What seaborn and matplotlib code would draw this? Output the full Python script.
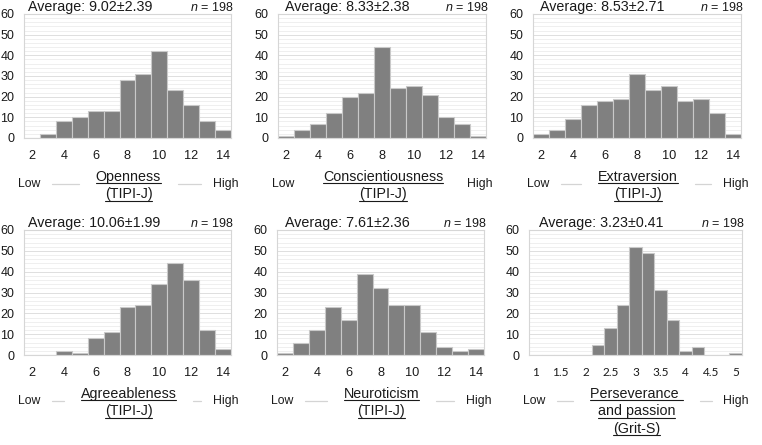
import numpy as np
import pandas as pd
import matplotlib
matplotlib.use("Agg")
import matplotlib.pyplot as plt
import seaborn as sns
from matplotlib.lines import Line2D

# ---------------- data ----------------
tipi_scores = list(range(2, 15))
openness = [0, 2, 8, 10, 13, 13, 28, 31, 42, 23, 16, 8, 4]
conscientiousness = [1, 4, 7, 12, 20, 22, 44, 24, 25, 21, 10, 7, 1]
extraversion = [2, 4, 9, 16, 18, 19, 31, 23, 25, 18, 19, 12, 2]
agreeableness = [0, 0, 2, 1, 8, 11, 23, 24, 34, 44, 36, 12, 3]
neuroticism = [1, 6, 12, 23, 17, 39, 32, 24, 24, 11, 4, 2, 3]

grit_scores = [1.0, 1.25, 1.5, 1.75, 2.0, 2.25, 2.5, 2.75, 3.0, 3.25, 3.5,
               3.75, 4.0, 4.25, 4.5, 4.75, 5.0]
grit = [0, 0, 0, 0, 0, 5, 13, 24, 52, 49, 31, 17, 2, 4, 0, 0, 1]

panel_titles = [["Openness", "(TIPI-J)"],
                ["Conscientiousness", "(TIPI-J)"],
                ["Extraversion", "(TIPI-J)"],
                ["Agreeableness", "(TIPI-J)"],
                ["Neuroticism", "(TIPI-J)"],
                ["Perseverance ", "and passion", "(Grit-S)"]]
averages = ["9.02", "8.33", "8.53", "10.06", "7.61", "3.23"]
sds = ["2.39", "2.38", "2.71", "1.99", "2.36", "0.41"]
n_values = [198, 198, 198, 198, 198, 198]
tipi_ticks = [2, 4, 6, 8, 10, 12, 14]
grit_ticks = [1, 1.5, 2, 2.5, 3, 3.5, 4, 4.5, 5]
grit_tick_labels = ["1", "1.5", "2", "2.5", "3", "3.5", "4", "4.5", "5"]
y_ticks = [0, 10, 20, 30, 40, 50, 60]

# ---------------- style ----------------
sns.set_theme(style="white")
plt.rcParams["font.family"] = ["Liberation Sans", "DejaVu Sans"]
plt.rcParams["mathtext.fontset"] = "custom"
plt.rcParams["mathtext.rm"] = "Liberation Sans"
plt.rcParams["mathtext.it"] = "Liberation Sans:italic"

TXT = "#1a1a1a"
BAR = "#808080"
W, H = 762, 445

fig = plt.figure(figsize=(W / 100, H / 100), dpi=100)
fig.patch.set_facecolor("white")


def fx(px):
    return px / W


def fy(py):
    return 1 - py / H


# layout in pixels: (left, right, top, bottom, average-text x)
layout = [(24, 231, 14, 138, 28), (278, 486, 14, 138, 285), (533, 741, 14, 138, 540),
          (24, 231, 230, 355, 28), (277, 484, 230, 355, 285), (529, 742, 230, 355, 539)]

datasets = [(tipi_scores, openness), (tipi_scores, conscientiousness),
            (tipi_scores, extraversion), (tipi_scores, agreeableness),
            (tipi_scores, neuroticism), (grit_scores, grit)]

title_objs = []
for i, ((l, r, t, b, ax_x), (xs, counts)) in enumerate(zip(layout, datasets)):
    ax = fig.add_axes([fx(l), fy(b), fx(r - l), (b - t) / H])
    df = pd.DataFrame({"score": xs, "count": counts})
    is_grit = i == 5
    if is_grit:
        bw, br = 0.25, (0.875, 5.125)
    else:
        bw, br = 1, (1.5, 14.5)
    sns.histplot(data=df, x="score", weights="count", binwidth=bw, binrange=br,
                 ax=ax, color=BAR, edgecolor="#c9c9c9", linewidth=0.8, alpha=1)
    ax.set_xlim(*br)
    ax.set_ylim(0, 60)
    ax.set_yticks(y_ticks)
    ax.set_yticks(np.arange(0, 61, 2), minor=True)
    ax.grid(which="minor", axis="y", color="#ededed", lw=0.6)
    ax.grid(which="major", axis="y", color="#dedede", lw=0.7)
    ax.set_axisbelow(True)
    ax.set_xlabel("")
    ax.set_ylabel("")
    if is_grit:
        ax.set_xticks(grit_ticks)
        ax.set_xticklabels(grit_tick_labels, fontfamily="Lato", fontsize=8.5)
    else:
        ax.set_xticks(tipi_ticks)
        ax.set_xticklabels([str(v) for v in tipi_ticks], fontsize=9.2)
    ax.tick_params(axis="x", length=0, pad=8.5, labelcolor=TXT)
    ax.tick_params(axis="y", length=0, pad=6.8, labelsize=9, labelcolor=TXT)
    ax.tick_params(which="minor", length=0)
    for sp in ax.spines.values():
        sp.set_color("#d6d6d6")
        sp.set_linewidth(0.8)

    # header texts
    fig.text(fx(ax_x), fy(t - 3), f"Average: {averages[i]}\u00b1{sds[i]}",
             ha="left", va="baseline", fontsize=10.3, color=TXT)
    fig.text(fx(r + 2), fy(t - 3), r"$\mathit{n}$" + f" = {n_values[i]}",
             ha="right", va="baseline", fontsize=9, color=TXT)

    # Low / High
    low = fig.text(fx(l - 6), fy(b + 46), "Low", ha="left", va="center",
                   fontsize=8.8, color=TXT)
    high = fig.text(fx(r + 7), fy(b + 46), "High", ha="right", va="center",
                    fontsize=8.8, color=TXT)
    cx = (l + r) / 2 + 1
    lines = []
    for j, line in enumerate(panel_titles[i]):
        base = b + 43 + j * 17.5
        tt = fig.text(fx(cx), fy(base), line, ha="center", va="baseline",
                      fontsize=10.3, color=TXT)
        lines.append((tt, base))
    title_objs.append((low, high, lines, b + 46))

fig.canvas.draw()
renderer = fig.canvas.get_renderer()
for low, high, lines, ly in title_objs:
    x0s, x1s = [], []
    for tt, base in lines:
        bb = tt.get_window_extent(renderer)
        x0s.append(bb.x0)
        x1s.append(bb.x1)
        yu = (H - base) - 2.0
        fig.add_artist(Line2D([bb.x0 / W, bb.x1 / W], [yu / H, yu / H],
                              transform=fig.transFigure, color=TXT, lw=0.8))
    lb = low.get_window_extent(renderer)
    hb = high.get_window_extent(renderer)
    yl = (H - ly) / H
    a0, a1 = lb.x1 + 12, min(x0s) - 17
    if a1 > a0:
        fig.add_artist(Line2D([a0 / W, a1 / W], [yl, yl], transform=fig.transFigure,
                              color="#d4d4d4", lw=0.9))
    b0, b1 = max(x1s) + 17, hb.x0 - 12
    if b1 > b0:
        fig.add_artist(Line2D([b0 / W, b1 / W], [yl, yl], transform=fig.transFigure,
                              color="#d4d4d4", lw=0.9))

fig.savefig("out.png", dpi=100, facecolor="white")
